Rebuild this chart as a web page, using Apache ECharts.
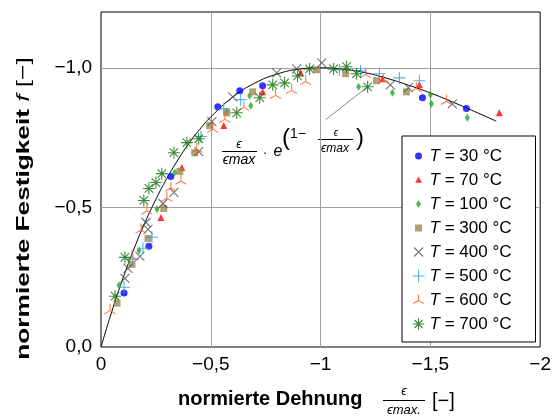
<!DOCTYPE html>
<html><head><meta charset="utf-8">
<script src="https://cdn.jsdelivr.net/npm/echarts@6/dist/echarts.min.js"></script>
<style>html,body{margin:0;padding:0;background:#fff}#c{width:554px;height:417px}</style>
</head><body><div id="c"></div><script>
// ---- data (magnitudes; axes display with minus sign) ----
var s30 = [[0.105,0.193],[0.218,0.361],[0.318,0.611],[0.532,0.861],[0.632,0.918],[0.736,0.936],[1.464,0.893],[1.664,0.854]];
var s70 = [[0.273,0.464],[0.368,0.643],[0.559,0.793],[0.736,0.914],[0.909,0.982],[1.282,0.961],[1.45,0.939],[1.814,0.839]];
var s100 = [[0.082,0.221],[0.173,0.346],[0.255,0.493],[0.336,0.625],[0.573,0.843],[0.677,0.9],[0.682,0.864],[1.173,0.932],[1.327,0.911],[1.5,0.904],[1.505,0.871],[1.668,0.821]];
var s300 = [[0.073,0.157],[0.141,0.296],[0.214,0.389],[0.286,0.496],[0.359,0.629],[0.427,0.696],[0.495,0.793],[0.573,0.839],[0.691,0.914],[0.982,0.993],[1.114,0.979],[1.255,0.954],[1.391,0.914]];
var s400 = [[0.109,0.246],[0.123,0.282],[0.177,0.325],[0.205,0.446],[0.214,0.421],[0.282,0.514],[0.332,0.554],[0.445,0.7],[0.505,0.807],[0.6,0.896],[0.8,0.982],[0.891,0.996],[1.005,1.018],[1.318,0.939],[1.4,0.929],[1.6,0.871]];
var s500 = [[0.105,0.214],[0.145,0.314],[0.191,0.354],[0.232,0.393],[0.455,0.754],[0.559,0.854],[0.636,0.886],[1.086,0.993],[1.182,0.989],[1.268,0.979],[1.359,0.964],[1.45,0.954]];
var s600 = [[0.041,0.136],[0.141,0.329],[0.182,0.425],[0.209,0.493],[0.3,0.539],[0.318,0.575],[0.364,0.6],[0.436,0.714],[0.509,0.786],[0.564,0.821],[0.65,0.864],[0.795,0.907],[0.868,0.925],[0.932,0.957],[1.205,0.982],[1.286,0.961],[1.436,0.932],[1.573,0.886]];
var s700 = [[0.064,0.182],[0.109,0.321],[0.195,0.525],[0.218,0.568],[0.25,0.589],[0.277,0.621],[0.332,0.696],[0.391,0.732],[0.445,0.746],[0.618,0.839],[0.723,0.893],[0.782,0.939],[0.836,0.946],[0.895,0.971],[0.95,0.996],[1.059,0.996],[1.118,1.004],[1.164,0.979],[1.214,0.932]];
// fitted curve
var curveX = [0,0.025,0.05,0.075,0.1,0.15,0.2,0.25,0.3,0.35,0.4,0.45,0.5,0.6,0.7,0.8,0.9,1.0,1.1,1.2,1.3,1.4,1.5,1.6,1.7,1.8];
var curveY = [0,0.066,0.129,0.189,0.246,0.351,0.445,0.529,0.604,0.670,0.729,0.780,0.824,0.895,0.945,0.977,0.995,1.0,0.995,0.983,0.963,0.938,0.910,0.878,0.844,0.809];
// leader line of the formula annotation
var leaderX = [1.023,1.214];
var leaderY = [0.814,0.932];
var names = ['T = 30 °C','T = 70 °C','T = 100 °C','T = 300 °C','T = 400 °C','T = 500 °C','T = 600 °C','T = 700 °C'];

var FF = '"Liberation Sans", Arial, Helvetica, sans-serif';
function zip(a,b){return a.map(function(v,i){return [v,b[i]];});}

var cols = ['#0000ff','#ff0000','#1faa1f','#9c8a52','#505050','#2b9fd9','#ff5a1e','#0a6e0a'];
var P_X = 'path://M0 0L10 10M10 0L0 10';
var P_PLUS = 'path://M5 0L5 10M0 5L10 5';
var P_TRI = 'path://M5 0L5 5.8M5 5.8L0 8.7M5 5.8L10 8.7';
var P_AST = 'path://M5 0L5 10M0 5L10 5M1.46 1.46L8.54 8.54M8.54 1.46L1.46 8.54';
var sym = ['circle','triangle','diamond','rect',P_X,P_PLUS,P_TRI,P_AST];
var symSize = [7,7,[5,8],7,9,12,11,12];
var stroked = [false,false,false,false,true,true,true,true];
var datas = [s30,s70,s100,s300,s400,s500,s600,s700];
var legIcons = [
 'path://M0 0M12 12M9.5 6A3.5 3.5 0 1 0 2.5 6A3.5 3.5 0 1 0 9.5 6Z',
 'path://M0 0M12 12M6 2.8L9.5 8.8L2.5 8.8Z',
 'path://M0 0M12 12M6 2L8.5 6L6 10L3.5 6Z',
 'path://M0 0M12 12M2.5 2.5H9.5V9.5H2.5Z',
 'path://M0 0M12 12M1.5 1.5L10.5 10.5M10.5 1.5L1.5 10.5',
 'path://M0 0M12 12M6 0L6 12M0 6L12 6',
 'path://M0 0M12 12M6 0.5L6 6.5M6 6.5L0.8 9.5M6 6.5L11.2 9.5',
 'path://M0 0M12 12M6 0.3L6 11.7M0.3 6L11.7 6M2 2L10 10M10 2L2 10'
];

var series = [{
  type:'line', name:'curve', data: zip(curveX,curveY), smooth:true, showSymbol:false, symbol:'none',
  lineStyle:{color:'#000',width:1}, silent:true, z:1
},{
  type:'line', name:'leader', data: zip(leaderX,leaderY), showSymbol:false, symbol:'none',
  lineStyle:{color:'#888',width:1}, silent:true, z:1
}];
var legendData = [];
for (var i=0;i<8;i++){
  var st = stroked[i] ? {color:'rgba(0,0,0,0)',borderColor:cols[i],borderWidth:1.1} : {color:cols[i]};
  series.push({type:'scatter', name:names[i], data:datas[i], symbol:sym[i], symbolSize:symSize[i],
    symbolKeepAspect:true, itemStyle:st, z:3});
  legendData.push({name:names[i], icon:legIcons[i],
    itemStyle: stroked[i] ? {color:'rgba(0,0,0,0)',borderColor:cols[i],borderWidth:1.1} : {color:cols[i],borderWidth:0}});
}

var chart = echarts.init(document.getElementById('c'), null, {renderer:'canvas'});
chart.setOption({
  animation:false,
  backgroundColor:'#fff',
  grid:{left:101,right:13,top:12,bottom:70,show:true,borderColor:'#000',borderWidth:1,backgroundColor:'transparent'},
  xAxis:{type:'value',min:0,max:2,interval:0.5,
    axisLine:{show:false},axisTick:{show:false},
    splitLine:{show:true,showMinLine:false,showMaxLine:false,lineStyle:{color:'#a0a0a0',width:1}},
    axisLabel:{fontSize:19,color:'#000',fontFamily:FF,margin:8,
      formatter:function(v){return v===0?'0':'\u2212'+String(v).replace('.',',');}}},
  yAxis:{type:'value',min:0,max:1.2,interval:0.5,
    axisLine:{show:false},axisTick:{show:false},
    splitLine:{show:true,showMinLine:false,showMaxLine:false,lineStyle:{color:'#a0a0a0',width:1}},
    axisLabel:{fontSize:19,color:'#000',fontFamily:FF,margin:9,showMaxLabel:false,
      formatter:function(v){if(v>1.1)return '';return v===0?'0,0':'\u2212'+v.toFixed(1).replace('.',',');}}},
  legend:{orient:'vertical',left:402,top:136,padding:[10,24,8,10],itemGap:4,itemWidth:12,itemHeight:12,
    backgroundColor:'#fff',borderColor:'#000',borderWidth:1,borderRadius:0,
    data:legendData,
    formatter:function(n){return '{i|T}{r|'+n.slice(1)+'}';},
    textStyle:{fontSize:17,color:'#000',fontFamily:FF,lineHeight:20,
      rich:{i:{fontStyle:'italic',fontSize:17,fontFamily:FF,lineHeight:20},r:{fontSize:17,fontFamily:FF,lineHeight:20}}}},
  graphic:[
    // y-axis title
    {type:'text',x:23.5,y:208.5,rotation:Math.PI/2,scaleX:1.38,style:{text:'{b|normierte Festigkeit }{i|f}{r| [\u2212]}',align:'center',verticalAlign:'middle',
      rich:{b:{fontWeight:'bold',fontSize:19,fontFamily:FF,fill:'#000'},i:{fontStyle:'italic',fontSize:19,fontFamily:FF,fill:'#000'},r:{fontSize:19,fontFamily:FF,fill:'#000'}}}},
    // x-axis title
    {type:'text',x:178,y:399,style:{text:'normierte Dehnung',fontWeight:'bold',fontSize:20,fontFamily:FF,fill:'#000',align:'left',verticalAlign:'middle'}},
    {type:'text',x:404,y:392,style:{text:'\u03f5',fontSize:12,fontStyle:'italic',fontFamily:FF,fill:'#000',align:'center',verticalAlign:'middle'}},
    {type:'line',shape:{x1:383,y1:400.5,x2:425,y2:400.5},style:{stroke:'#000',lineWidth:1}},
    {type:'text',x:404,y:410,style:{text:'\u03f5max.',fontSize:13,fontStyle:'italic',fontFamily:FF,fill:'#000',align:'center',verticalAlign:'middle'}},
    {type:'text',x:432,y:401,style:{text:'[\u2212]',fontSize:20,fontFamily:FF,fill:'#000',align:'left',verticalAlign:'middle'}},
    // formula annotation
    {type:'text',x:239,y:145,style:{text:'\u03f5',fontSize:12,fontStyle:'italic',fontFamily:FF,fill:'#000',align:'center',verticalAlign:'middle'}},
    {type:'line',shape:{x1:222,y1:151.5,x2:257,y2:151.5},style:{stroke:'#000',lineWidth:1}},
    {type:'text',x:239,y:160,style:{text:'\u03f5max',fontSize:14,fontStyle:'italic',fontFamily:FF,fill:'#000',align:'center',verticalAlign:'middle'}},
    {type:'text',x:265,y:153,style:{text:'\u00b7',fontSize:14,fontFamily:FF,fill:'#000',align:'center',verticalAlign:'middle'}},
    {type:'text',x:278,y:152,style:{text:'e',fontSize:16,fontStyle:'italic',fontFamily:FF,fill:'#000',align:'center',verticalAlign:'middle'}},
    {type:'text',x:286,y:138,style:{text:'(',fontSize:24,fontFamily:FF,fill:'#000',align:'center',verticalAlign:'middle'}},
    {type:'text',x:290,y:134,style:{text:'1\u2212',fontSize:14,fontFamily:FF,fill:'#000',align:'left',verticalAlign:'middle'}},
    {type:'text',x:336,y:133,style:{text:'\u03f5',fontSize:10,fontStyle:'italic',fontFamily:FF,fill:'#000',align:'center',verticalAlign:'middle'}},
    {type:'line',shape:{x1:318,y1:139.5,x2:353,y2:139.5},style:{stroke:'#000',lineWidth:1}},
    {type:'text',x:335,y:149,style:{text:'\u03f5max',fontSize:12,fontStyle:'italic',fontFamily:FF,fill:'#000',align:'center',verticalAlign:'middle'}},
    {type:'text',x:360,y:138,style:{text:')',fontSize:24,fontFamily:FF,fill:'#000',align:'center',verticalAlign:'middle'}}
  ],
  series:series
});
</script></body></html>
